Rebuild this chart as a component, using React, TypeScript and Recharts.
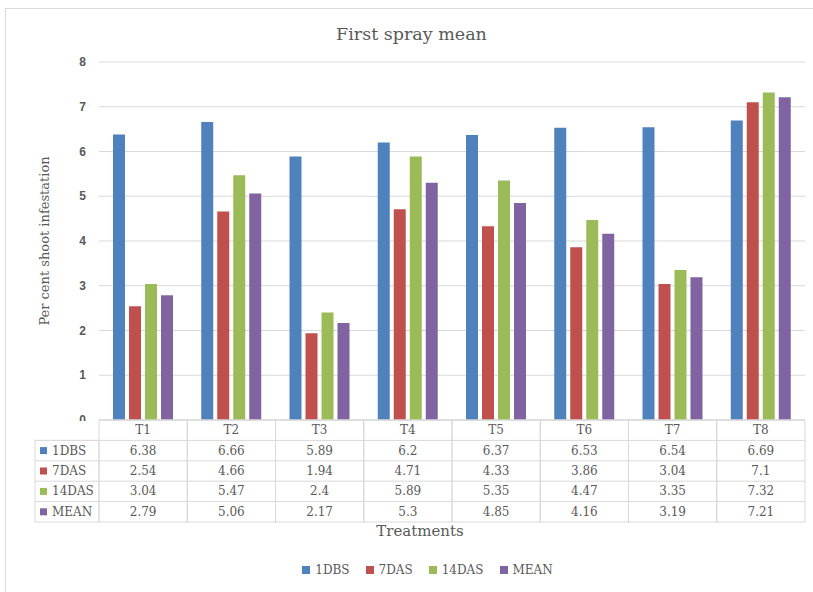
import React from "react"
import {
  BarChart,
  Bar,
  XAxis,
  YAxis,
  CartesianGrid,
  Legend,
} from "recharts"

const categories = ["T1", "T2", "T3", "T4", "T5", "T6", "T7", "T8"]
const dbs1 = [6.38, 6.66, 5.89, 6.2, 6.37, 6.53, 6.54, 6.69]
const das7 = [2.54, 4.66, 1.94, 4.71, 4.33, 3.86, 3.04, 7.1]
const das14 = [3.04, 5.47, 2.4, 5.89, 5.35, 4.47, 3.35, 7.32]
const mean = [2.79, 5.06, 2.17, 5.3, 4.85, 4.16, 3.19, 7.21]
const yTicks = [0, 1, 2, 3, 4, 5, 6, 7, 8]

const seriesNames = ["1DBS", "7DAS", "14DAS", "MEAN"]
const seriesValues = [dbs1, das7, das14, mean]
const seriesColors = ["#4f81bd", "#c0504d", "#9bbb59", "#8064a2"]

const data = categories.map((name, i) => {
  const row: Record<string, string | number> = { name }
  seriesNames.forEach((s, k) => {
    row[s] = seriesValues[k][i]
  })
  return row
})

const GRID = "#d9d9d9"
const TEXT = "#595959"
const SERIF = "'DejaVu Serif', serif"
const ROW_H = 20.4
const LABEL_COL = 64

function YTick(props: any) {
  const { x, y, payload } = props
  const isZero = payload.value === 0
  return (
    <g>
      {isZero && (
        <defs>
          <clipPath id="zeroClip">
            <rect x={x - 30} y={y - 20} width={40} height={21} />
          </clipPath>
        </defs>
      )}
      <text
        x={x}
        y={y}
        textAnchor="end"
        dominantBaseline="central"
        fill={TEXT}
        fontFamily="'Liberation Sans', sans-serif"
        fontWeight="bold"
        fontSize={12}
        clipPath={isZero ? "url(#zeroClip)" : undefined}
      >
        {payload.value}
      </text>
    </g>
  )
}

// draws one column of the data table under each category
function TableTick(props: any) {
  const { x, y, payload, index } = props
  const half = payload.offset || 44
  const left = x - half
  const w = half * 2
  const cellText = {
    fill: TEXT,
    fontFamily: SERIF,
    fontSize: 12,
    textAnchor: "middle" as const,
    dominantBaseline: "central" as const,
  }
  const tableLeft = left - LABEL_COL
  const tableRight = left + categories.length * w
  return (
    <g>
      <rect x={left} y={y} width={w} height={ROW_H * 5} fill="none" stroke={GRID} />
      {seriesNames.map((_, k) => (
        <line
          key={k}
          x1={left}
          x2={left + w}
          y1={y + ROW_H * (k + 1)}
          y2={y + ROW_H * (k + 1)}
          stroke={GRID}
        />
      ))}
      <text x={x} y={y + ROW_H / 2} {...cellText}>
        {payload.value}
      </text>
      {seriesValues.map((vals, k) => (
        <text key={k} x={x} y={y + ROW_H * (k + 1.5)} {...cellText}>
          {vals[index]}
        </text>
      ))}
      {index === 0 && (
        <g>
          <rect
            x={tableLeft}
            y={y + ROW_H}
            width={LABEL_COL}
            height={ROW_H * 4}
            fill="none"
            stroke={GRID}
          />
          {seriesNames.map((s, k) => (
            <g key={s}>
              <line
                x1={tableLeft}
                x2={left}
                y1={y + ROW_H * (k + 1)}
                y2={y + ROW_H * (k + 1)}
                stroke={GRID}
              />
              <rect
                x={tableLeft + 5}
                y={y + ROW_H * (k + 1.5) - 3.5}
                width={7}
                height={7}
                fill={seriesColors[k]}
              />
              <text
                x={tableLeft + 17}
                y={y + ROW_H * (k + 1.5)}
                fill={TEXT}
                fontFamily={SERIF}
                fontSize={12}
                dominantBaseline="central"
              >
                {s}
              </text>
            </g>
          ))}
          <text
            x={(tableLeft + tableRight) / 2}
            y={y + ROW_H * 5 + 14}
            textAnchor="middle"
            fill={TEXT}
            fontFamily={SERIF}
            fontSize={15}
          >
            Treatments
          </text>
        </g>
      )}
    </g>
  )
}

function LegendContent(props: any) {
  const items = [...(props.payload || [])].sort(
    (a: any, b: any) => seriesNames.indexOf(a.value) - seriesNames.indexOf(b.value)
  )
  return (
    <div style={{ display: "flex", justifyContent: "center", gap: 16 }}>
      {items.map((p: any) => (
        <div key={p.value} style={{ display: "flex", alignItems: "center", gap: 5 }}>
          <div style={{ width: 8, height: 8, background: p.color }} />
          <span style={{ fontFamily: SERIF, fontSize: 12, color: TEXT }}>{p.value}</span>
        </div>
      ))}
    </div>
  )
}

export default function App() {
  return (
    <div
      style={{
        position: "absolute",
        left: 0,
        top: 0,
        width: 813,
        height: 592,
        overflow: "hidden",
        background: "#fff",
      }}
    >
      <div
        style={{
          position: "absolute",
          left: 5,
          top: 8,
          width: 820,
          height: 600,
          border: `1px solid ${GRID}`,
        }}
      />
      <div
        style={{
          position: "absolute",
          left: 0,
          width: 823,
          top: 24,
          textAlign: "center",
          fontFamily: SERIF,
          fontSize: 17.5,
          color: TEXT,
        }}
      >
        First spray mean
      </div>
      <div style={{ position: "absolute", left: 0, top: 0 }}>
        <BarChart
          width={813}
          height={592}
          data={data}
          margin={{ top: 62, right: 8, bottom: 0, left: 0 }}
          barCategoryGap={14}
          barGap={4}
        >
          <CartesianGrid vertical={false} stroke={GRID} />
          <XAxis
            dataKey="name"
            interval={0}
            height={172}
            tickLine={false}
            tickSize={0}
            tickMargin={0}
            axisLine={{ stroke: GRID }}
            tick={<TableTick />}
          />
          <YAxis
            width={99}
            domain={[0, 8]}
            ticks={yTicks}
            tickLine={false}
            axisLine={false}
            tickMargin={7}
            tick={<YTick />}
            label={{
              value: "Per cent shoot infestation",
              angle: -90,
              position: "insideLeft",
              offset: 44,
              style: {
                textAnchor: "middle",
                fill: TEXT,
                fontFamily: SERIF,
                fontSize: 13,
              },
            }}
          />
          <Legend
            verticalAlign="middle"
            align="center"
            layout="horizontal"
            content={<LegendContent />}
            wrapperStyle={{ top: 563, left: 21, width: 813 }}
          />
          {seriesNames.map((s, k) => (
            <Bar key={s} dataKey={s} fill={seriesColors[k]} isAnimationActive={false} />
          ))}
        </BarChart>
      </div>
    </div>
  )
}
